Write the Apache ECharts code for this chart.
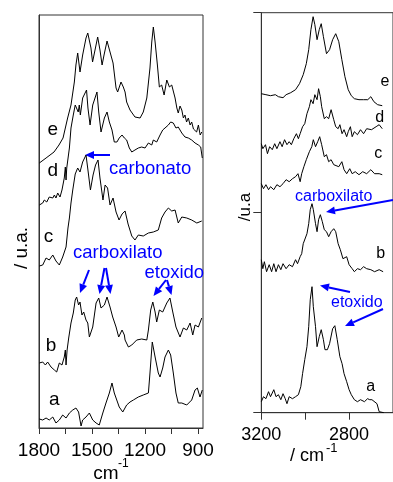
<!DOCTYPE html>
<html>
<head>
<meta charset="utf-8">
<script src="https://cdn.jsdelivr.net/npm/echarts@6/dist/echarts.min.js"></script>
<style>
html, body { margin: 0; padding: 0; background: #fff; }
#chart1 { width: 393px; height: 482px; }
</style>
</head>
<body>
<div id="chart1"></div>
<script>
// left panel: 1800-900 cm-1, [wavenumber, intensity u.a.]
var irE = [[1798,265],[1760,270],[1715,276],[1687,283],[1664,290],[1638,310],[1619,323],[1600,346],[1591,363],[1581,375],[1568,356],[1553,373],[1534,390],[1524,395],[1506,380],[1497,366],[1483,378],[1468,391],[1455,378],[1443,363],[1432,373],[1415,387],[1398,376],[1381,365],[1364,340],[1355,336],[1336,346],[1323,341],[1313,336],[1304,326],[1285,318],[1257,311],[1228,310],[1210,316],[1190,330],[1172,360],[1162,386],[1153,401],[1143,386],[1130,363],[1119,341],[1106,343],[1092,333],[1077,348],[1062,341],[1049,343],[1030,330],[1020,320],[1012,315],[1002,322],[992,318],[983,310],[974,313],[965,306],[955,310],[945,303],[936,306],[926,299],[917,301],[908,296],[898,303],[888,293],[879,296]];
var irD = [[1798,223],[1779,225],[1770,228],[1756,226],[1742,231],[1722,230],[1713,233],[1704,230],[1694,235],[1681,231],[1670,238],[1657,250],[1651,261],[1647,248],[1643,260],[1628,280],[1619,300],[1606,313],[1595,323],[1587,325],[1578,316],[1572,323],[1566,313],[1553,330],[1531,338],[1523,320],[1511,303],[1496,323],[1472,336],[1462,316],[1449,296],[1430,310],[1415,316],[1402,306],[1387,298],[1374,286],[1359,286],[1346,290],[1330,293],[1317,290],[1304,288],[1289,280],[1275,276],[1257,278],[1238,280],[1219,281],[1200,280],[1181,285],[1162,283],[1153,288],[1134,286],[1115,293],[1100,298],[1087,300],[1068,303],[1055,306],[1040,305],[1025,300],[1012,301],[992,295],[974,291],[955,290],[936,288],[917,285],[898,283],[885,281],[876,270]];
var irC = [[1798,162],[1779,163],[1760,170],[1742,168],[1722,173],[1704,167],[1685,163],[1666,171],[1647,181],[1636,200],[1628,210],[1619,225],[1609,238],[1595,254],[1581,260],[1568,256],[1553,266],[1534,273],[1523,258],[1509,238],[1494,253],[1480,263],[1466,268],[1455,250],[1438,228],[1426,243],[1412,240],[1398,223],[1381,230],[1364,216],[1347,208],[1330,214],[1313,217],[1296,204],[1275,192],[1257,188],[1238,193],[1210,192],[1181,195],[1153,196],[1125,198],[1106,210],[1087,216],[1068,220],[1049,217],[1030,218],[1012,205],[992,211],[964,210],[936,208],[907,205],[879,207]];
var irB = [[1798,65],[1779,66],[1764,63],[1751,66],[1732,61],[1713,58],[1700,56],[1685,65],[1670,63],[1657,71],[1651,78],[1647,63],[1641,78],[1632,90],[1619,105],[1606,115],[1595,128],[1587,131],[1576,123],[1568,126],[1557,113],[1547,116],[1534,108],[1524,105],[1515,91],[1496,101],[1477,125],[1462,130],[1449,120],[1430,123],[1415,131],[1398,121],[1383,111],[1364,101],[1349,91],[1330,98],[1317,93],[1313,88],[1294,81],[1275,83],[1247,88],[1219,89],[1190,88],[1181,98],[1168,118],[1156,126],[1143,116],[1134,106],[1119,118],[1100,116],[1077,125],[1059,130],[1043,116],[1025,101],[1002,91],[983,100],[964,98],[945,105],[930,93],[917,103],[898,101],[879,110]];
var irA = [[1798,9],[1779,8],[1760,10],[1742,8],[1722,11],[1704,5],[1685,8],[1666,13],[1647,10],[1628,15],[1609,18],[1591,20],[1576,16],[1562,2],[1553,8],[1534,11],[1515,15],[1496,8],[1477,5],[1459,3],[1439,15],[1421,25],[1402,35],[1387,45],[1374,35],[1360,28],[1346,21],[1326,16],[1304,23],[1285,26],[1266,28],[1238,31],[1210,33],[1181,35],[1172,55],[1159,86],[1143,71],[1125,55],[1115,51],[1100,60],[1087,71],[1068,78],[1055,73],[1040,55],[1025,35],[1012,25],[992,25],[964,23],[936,28],[917,38],[904,40],[889,31],[876,38]];

// right panel: 3200-2640 cm-1
var chE = [[3200,319],[3179,318],[3158,317],[3136,318],[3122,316],[3101,315],[3087,318],[3066,320],[3044,323],[3026,329],[3009,338],[2995,349],[2984,363],[2974,383],[2964,396],[2956,388],[2946,373],[2936,383],[2927,389],[2917,376],[2903,359],[2889,363],[2875,373],[2861,379],[2847,371],[2833,353],[2819,336],[2804,323],[2790,317],[2776,314],[2755,313],[2734,313],[2715,313],[2701,316],[2687,311],[2670,308],[2649,307]];
var chD = [[3200,269],[3193,264],[3181,268],[3172,259],[3162,266],[3150,263],[3139,269],[3129,264],[3115,271],[3105,266],[3094,273],[3083,268],[3073,271],[3063,268],[3052,274],[3040,279],[3031,274],[3023,279],[3012,286],[3002,289],[2992,299],[2981,306],[2974,313],[2964,309],[2956,318],[2946,313],[2939,324],[2931,316],[2925,306],[2913,294],[2903,296],[2893,294],[2882,303],[2870,293],[2861,286],[2850,284],[2842,288],[2832,279],[2823,283],[2811,276],[2804,281],[2794,286],[2786,276],[2776,281],[2762,278],[2748,283],[2734,279],[2720,284],[2698,283],[2677,286],[2663,288],[2649,284]];
var chC = [[3200,229],[3190,224],[3179,228],[3167,223],[3158,226],[3143,223],[3129,228],[3115,226],[3101,229],[3087,233],[3073,231],[3058,234],[3044,236],[3033,239],[3023,231],[3016,239],[3006,246],[2995,253],[2981,261],[2970,266],[2963,273],[2953,266],[2943,271],[2934,276],[2925,268],[2913,256],[2903,258],[2893,251],[2882,253],[2870,248],[2861,249],[2847,246],[2833,251],[2823,243],[2811,239],[2797,244],[2786,239],[2772,241],[2755,238],[2738,241],[2720,239],[2701,243],[2684,239],[2663,239],[2649,238]];
var chB = [[3200,153],[3193,144],[3186,151],[3176,141],[3164,148],[3153,141],[3143,149],[3133,141],[3122,148],[3111,143],[3101,149],[3087,144],[3073,148],[3058,146],[3044,153],[3035,149],[3023,156],[3016,159],[3009,169],[3002,171],[2992,179],[2984,189],[2977,203],[2969,209],[2963,203],[2953,189],[2946,181],[2939,193],[2931,198],[2922,191],[2913,183],[2903,181],[2893,176],[2882,181],[2870,184],[2861,181],[2850,169],[2840,163],[2828,154],[2819,153],[2811,156],[2800,148],[2786,144],[2776,141],[2762,144],[2748,143],[2734,146],[2720,144],[2701,143],[2684,141],[2663,143],[2645,141]];
var chA = [[3200,11],[3190,16],[3179,14],[3167,21],[3158,16],[3143,23],[3133,16],[3122,18],[3111,13],[3101,19],[3091,14],[3083,9],[3073,16],[3058,14],[3044,16],[3031,18],[3020,26],[3012,39],[3002,53],[2992,66],[2984,86],[2977,113],[2969,126],[2963,106],[2953,86],[2946,66],[2936,76],[2927,83],[2917,73],[2910,63],[2899,63],[2889,69],[2875,84],[2865,87],[2854,73],[2842,56],[2832,49],[2823,39],[2811,31],[2800,23],[2790,18],[2776,13],[2762,11],[2748,13],[2730,11],[2716,14],[2706,13],[2696,13],[2687,13],[2673,9],[2663,1],[2642,0]];

var leftTicks = [900, 1050, 1200, 1350, 1500, 1650, 1800];
var leftTickLabels = [900, 1200, 1500, 1800];
var rightTickLabels = [2800, 3200];

var FONT = 'Liberation Sans, Arial, sans-serif';
var BLUE = '#0000ff';
var AXIS = '#333';

var dom = document.getElementById('chart1');
var myChart = echarts.init(dom);

function arrow(x1, y1, x2, y2) {
    var dx = x2 - x1, dy = y2 - y1;
    var len = Math.sqrt(dx * dx + dy * dy);
    var ux = dx / len, uy = dy / len;
    var hl = 9, hw = 4;
    var bx = x2 - ux * hl, by = y2 - uy * hl;
    return [
        {type: 'line', shape: {x1: x1, y1: y1, x2: bx, y2: by}, style: {stroke: BLUE, lineWidth: 2}},
        {type: 'polygon', shape: {points: [[x2, y2], [bx - uy * hw, by + ux * hw], [bx + uy * hw, by - ux * hw]]}, style: {fill: BLUE}}
    ];
}

function txt(x, y, s, size, color, align, rot) {
    return {
        type: 'text', x: x, y: y, rotation: rot || 0,
        style: {text: s, font: size + 'px ' + FONT, fill: color, align: align || 'left', verticalAlign: 'middle'}
    };
}

var graphics = [];
// curve letters
graphics.push(txt(52.7, 130, 'e', 19, '#000', 'center'));
graphics.push(txt(52.7, 171, 'd', 19, '#000', 'center'));
graphics.push(txt(48.5, 236.5, 'c', 19, '#000', 'center'));
graphics.push(txt(51, 346, 'b', 19, '#000', 'center'));
graphics.push(txt(54.3, 400, 'a', 19, '#000', 'center'));
graphics.push(txt(385, 82, 'e', 16, '#000', 'center'));
graphics.push(txt(379.7, 117.5, 'd', 16, '#000', 'center'));
graphics.push(txt(378.3, 154, 'c', 16, '#000', 'center'));
graphics.push(txt(380.7, 254, 'b', 16, '#000', 'center'));
graphics.push(txt(370.7, 387, 'a', 16, '#000', 'center'));
// annotations
graphics.push(txt(109, 169, 'carbonato', 18.5, BLUE));
graphics.push(txt(73, 253, 'carboxilato', 18.5, BLUE));
graphics.push(txt(144.5, 272.5, 'etoxido', 18.5, BLUE));
graphics.push(txt(295, 196.5, 'carboxilato', 16, BLUE));
graphics.push(txt(331, 302.5, 'etoxido', 16, BLUE));
graphics = graphics
    .concat(arrow(110, 155, 85, 155))
    .concat(arrow(89, 270, 80, 293))
    .concat(arrow(104.5, 268, 99.5, 294))
    .concat(arrow(106, 268, 110.5, 294))
    .concat(arrow(166, 280, 153.5, 296))
    .concat(arrow(167, 280, 171.5, 295))
    .concat(arrow(393, 200, 326, 212))
    .concat(arrow(350, 292, 320, 285.5))
    .concat(arrow(383, 309, 345, 326));
// axis titles
graphics.push(txt(21.7, 248, '/ u.a.', 19, '#000', 'center', Math.PI / 2));
graphics.push(txt(245, 207, '/u.a', 17, '#000', 'center', Math.PI / 2));
graphics.push(txt(93.3, 473.4, 'cm', 19, '#000'));
graphics.push(txt(118, 464, '-1', 12, '#000'));
graphics.push(txt(290, 455.7, '/ cm', 18, '#000'));
graphics.push(txt(326, 448, '-1', 13, '#000'));

function curve(data, gi) {
    return {
        type: 'line', data: data, xAxisIndex: gi, yAxisIndex: gi,
        showSymbol: false, silent: true,
        lineStyle: {color: '#000', width: 1}
    };
}

function plain(v) { return String(v); }

option = {
    animation: false,
    backgroundColor: '#fff',
    grid: [
        {left: 39, top: 15, width: 164, height: 413, show: true, borderColor: AXIS, borderWidth: 1},
        {left: 261.3, top: 12.7, width: 141.6, height: 400, show: true, borderColor: AXIS, borderWidth: 1}
    ],
    xAxis: [
        {
            type: 'value', gridIndex: 0, min: 872, max: 1800, inverse: true,
            axisLine: {lineStyle: {color: AXIS}},
            axisTick: {customValues: leftTicks, length: 6, lineStyle: {color: AXIS}},
            axisLabel: {customValues: leftTickLabels, formatter: plain, fontSize: 19, fontFamily: FONT, color: '#000', margin: 13},
            splitLine: {show: false}
        },
        {
            type: 'value', gridIndex: 1, min: 2600, max: 3200, interval: 200, inverse: true,
            axisLine: {lineStyle: {color: AXIS}},
            axisTick: {length: 7, lineStyle: {color: AXIS}},
            axisLabel: {customValues: rightTickLabels, formatter: plain, fontSize: 18, fontFamily: FONT, color: '#000', margin: 13},
            splitLine: {show: false}
        }
    ],
    yAxis: [
        {
            type: 'value', gridIndex: 0, min: 0, max: 413,
            axisLine: {show: true, lineStyle: {color: AXIS}},
            axisTick: {show: false}, axisLabel: {show: false}, splitLine: {show: false}
        },
        {
            type: 'value', gridIndex: 1, min: 0, max: 400, interval: 200,
            axisLine: {show: true, lineStyle: {color: AXIS}},
            axisTick: {show: true, length: 8, lineStyle: {color: AXIS}},
            axisLabel: {show: false}, splitLine: {show: false}
        }
    ],
    series: [
        curve(irA, 0), curve(irB, 0), curve(irC, 0), curve(irD, 0), curve(irE, 0),
        curve(chA, 1), curve(chB, 1), curve(chC, 1), curve(chD, 1), curve(chE, 1)
    ],
    graphic: graphics
};

if (option && typeof option === "object") {
    myChart.setOption(option, true);
}
</script>
</body>
</html>
